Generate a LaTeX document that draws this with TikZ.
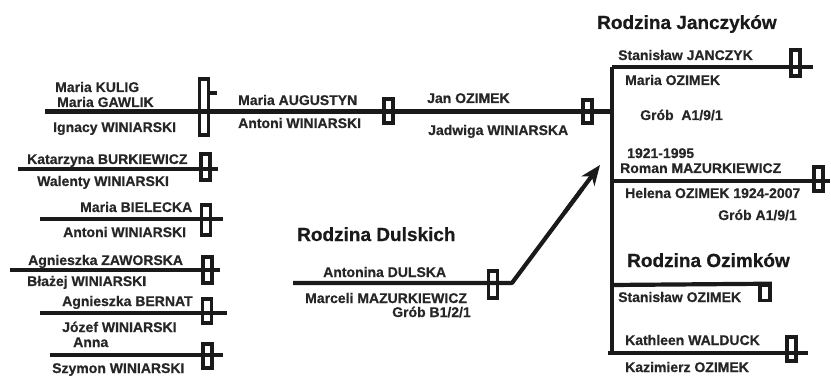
\documentclass[tikz,border=0pt]{standalone}
\usepackage{fontspec}
\setmainfont{Liberation Sans}
\newfontfamily\heavyfont{Liberation Sans Bold}[FakeBold=0.6]
\usetikzlibrary{arrows.meta,calc}
\definecolor{ink}{HTML}{1A1A1A}
\definecolor{txt}{HTML}{262626}
\tikzset{
  grave/.style={draw=ink, line width=3.6pt, minimum width=9pt, inner sep=0pt},
  link/.style={draw=ink, line width=4.2pt},
  person/.style={anchor=base west, inner sep=0pt, text=txt, font=\heavyfont\fontsize{14}{14}\selectfont},
  famhead/.style={anchor=base west, inner sep=0pt, text=ink, font=\heavyfont\fontsize{19}{19}\selectfont},
}
\begin{document}
\begin{tikzpicture}[x=1pt,y=-1pt]
\useasboundingbox (0,0) rectangle (831,377);

% ---------- coordinates for connectors ----------
\coordinate (mainL) at (45,111.5);
\coordinate (vJ) at (612,67);
\coordinate (vM) at (612,111.5);
\coordinate (vR) at (612,181);
\coordinate (vS) at (612,285);
\coordinate (vK) at (612,353);
\coordinate (jR) at (813,67);
\coordinate (rR) at (830,181);
\coordinate (kL) at (608,353);
\coordinate (kR) at (808,353);
\coordinate (dL) at (293,283);
\coordinate (dR) at (512,283);
\coordinate (arr) at (600,165);
\coordinate (c2L) at (18,169);   \coordinate (c2R) at (218,169);
\coordinate (c3L) at (40,219);   \coordinate (c3R) at (223,219);
\coordinate (c4L) at (10,270);   \coordinate (c4R) at (220,270);
\coordinate (c5L) at (40,313);   \coordinate (c5R) at (227,313);
\coordinate (c6L) at (50,355);   \coordinate (c6R) at (223,355);
\coordinate (tickR) at (217,93);

% ---------- graves ----------
\node[grave, minimum height=56pt] (g1) at (204,107) {};
\node[grave, minimum height=26pt] (g2) at (205.5,167) {};
\node[grave, minimum height=30pt] (g3) at (206,220) {};
\node[grave, minimum height=26pt] (g4) at (207.5,270) {};
\node[grave, minimum height=24pt] (g5) at (207,311) {};
\node[grave, minimum height=24pt] (g6) at (207.5,356) {};
\node[grave, minimum height=24pt] (g7) at (388.5,111) {};
\node[grave, minimum height=23pt] (g8) at (587.5,111.5) {};
\node[grave, minimum height=26pt] (g9) at (795.5,63) {};
\node[grave, minimum height=24pt] (g10) at (818.5,179) {};
\node[grave, minimum height=24pt] (g11) at (791.5,349) {};
\node[grave, minimum height=27pt] (g12) at (493,284.5) {};
\node[grave, minimum width=10pt, minimum height=15pt] (g13) at (765,293) {};

% ---------- connectors ----------
\draw[link] (mainL) -- (vM);
\draw[link] (g1.east |- tickR) -- (tickR);
\draw[link] (vJ) -- (vK);
\draw[link] (vJ) -- (jR);
\draw[link] (vR) -- (rR);
\draw[link] (vS) -- (g13.north east);
\draw[link] (kL) -- (kR);
\draw[link] (c2L) -- (c2R);
\draw[link] (c3L) -- (c3R);
\draw[link] (c4L) -- (c4R);
\draw[link] (c5L) -- (c5R);
\draw[link] (c6L) -- (c6R);
\draw[link, line join=round] (dL) -- (dR) -- ($(dR)!0.8!(arr)$);
\draw[draw=ink, line width=4.2pt, -{Stealth[length=20pt,width=16pt,inset=6pt]}] ($(dR)!0.6!(arr)$) -- (arr);

% ---------- left family ----------
\node[person] (t1) at (55,92) {Maria KULIG};
\node[person] (t2) at (57,107) {Maria GAWLIK};
\node[person] (t3) at (53,132) {Ignacy WINIARSKI};
\node[person] (t4) at (27,164) {Katarzyna BURKIEWICZ};
\node[person] (t5) at (37,186) {Walenty WINIARSKI};
\node[person] (t6) at (80,212) {Maria BIELECKA};
\node[person] (t7) at (63,237) {Antoni WINIARSKI};
\node[person] (t8) at (28,265) {Agnieszka ZAWORSKA};
\node[person] (t9) at (27,286) {Błażej WINIARSKI};
\node[person] (t10) at (62,306) {Agnieszka BERNAT};
\node[person] (t11) at (62,332) {Józef WINIARSKI};
\node[person] (t12) at (73,347) {Anna};
\node[person] (t13) at (52,373) {Szymon WINIARSKI};

% ---------- middle ----------
\node[person] (t14) at (238,105) {Maria AUGUSTYN};
\node[person] (t15) at (238,128) {Antoni WINIARSKI};
\node[person] (t16) at (427,103) {Jan OZIMEK};
\node[person] (t17) at (428,135) {Jadwiga WINIARSKA};

% ---------- Dulscy ----------
\node[famhead] (f1) at (297,241) {Rodzina Dulskich};
\node[person] (t18) at (323,277) {Antonina DULSKA};
\node[person] (t19) at (305,303) {Marceli MAZURKIEWICZ};
\node[person] (t20) at (392,317) {Grób B1/2/1};

% ---------- right ----------
\node[famhead] (f2) at (597,29) {Rodzina Janczyków};
\node[person] (t21) at (618,60) {Stanisław JANCZYK};
\node[person] (t22) at (625,85) {Maria OZIMEK};
\node[person] (t23) at (640,120) {Grób\ \ A1/9/1};
\node[person] (t24) at (627,158) {1921-1995};
\node[person] (t25) at (620,173) {Roman MAZURKIEWICZ};
\node[person] (t26) at (625,198) {Helena OZIMEK 1924-2007};
\node[person] (t27) at (718,220) {Grób A1/9/1};
\node[famhead] (f3) at (627,267) {Rodzina Ozimków};
\node[person] (t28) at (618,302) {Stanisław OZIMEK};
\node[person] (t29) at (625,345) {Kathleen WALDUCK};
\node[person] (t30) at (625,372) {Kazimierz OZIMEK};
\end{tikzpicture}
\end{document}
